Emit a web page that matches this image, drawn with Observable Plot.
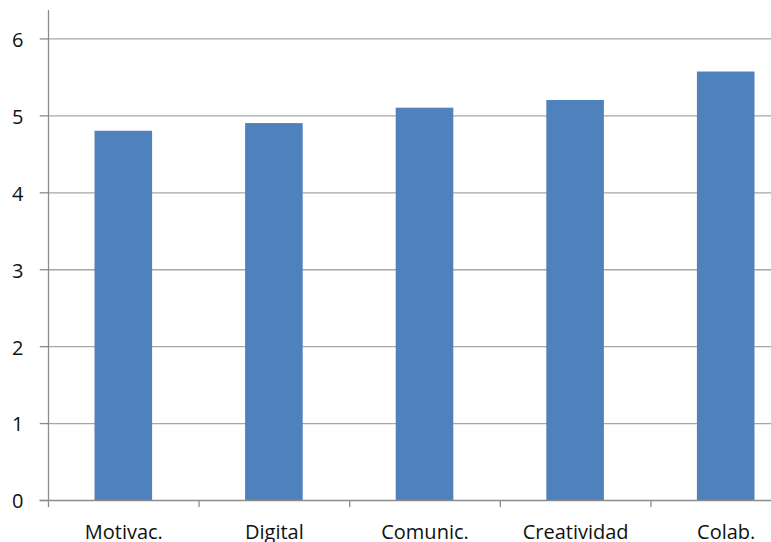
<!DOCTYPE html>
<html>
<head>
<meta charset="utf-8">
<script src="https://cdn.jsdelivr.net/npm/d3@7"></script>
<script src="https://cdn.jsdelivr.net/npm/@observablehq/plot@0.6"></script>
<style>
  html, body { margin: 0; padding: 0; background: #fff; overflow: hidden; }
  #chart { width: 771px; height: 542px; overflow: hidden; }
</style>
</head>
<body>
<div id="chart"></div>
<script>
const categories = ["Motivac.", "Digital", "Comunic.", "Creatividad", "Colab."];
const values = [4.8, 4.9, 5.1, 5.2, 5.57];
const yTicks = [0, 1, 2, 3, 4, 5, 6];
const yMax = 6.37;

const data = categories.map((c, i) => ({cat: c, i, value: values[i]}));
const bounds = d3.range(categories.length + 1);

const font = "'Open Sans', 'Liberation Sans', sans-serif";
const gridColor = "#a6a6a6";
const axisColor = "#8c8c8c";
const textColor = "#111111";

const chart = Plot.plot({
  width: 771,
  height: 542,
  marginTop: 10,
  marginBottom: 42,
  marginLeft: 48,
  marginRight: 0,
  style: {fontFamily: font, background: "#fff", overflow: "visible"},
  x: {type: "linear", domain: [0, categories.length], range: [48, 801], axis: null},
  y: {domain: [0, yMax], axis: null},
  marks: [
    // horizontal gridlines
    Plot.ruleY(yTicks.filter(t => t > 0), {y: d => d, x1: 0, x2: categories.length, stroke: gridColor, strokeWidth: 1.3}),
    // left tick marks
    Plot.ruleY(yTicks, {y: d => d, x1: -0.055, x2: 0, stroke: axisColor, strokeWidth: 1.3}),
    // bars
    Plot.rectY(data, {x1: "i", x2: d => d.i + 1, y: "value", fill: "#4f81bd", insetLeft: 46.5, insetRight: 46.5}),
    // y axis line
    Plot.ruleX([0], {x: d => d, y1: 0, y2: yMax, stroke: axisColor, strokeWidth: 1.3}),
    // x axis line
    Plot.ruleY([0], {y: d => d, x1: -0.055, x2: categories.length, stroke: axisColor, strokeWidth: 1.3}),
    // x category separator ticks (below the axis)
    Plot.ruleX(bounds, {x: d => d, y1: 0, y2: -0.092, stroke: axisColor, strokeWidth: 1.3}),
    // y tick labels
    Plot.text(yTicks, {y: d => d, frameAnchor: "left", dx: -25, dy: 1.5, text: d => String(d), textAnchor: "end", fontSize: 20, fill: textColor}),
    // x labels
    Plot.text(data, {x: d => d.i + 0.5, y: 0, text: "cat", lineAnchor: "bottom", dy: 38, fontSize: 20, fill: textColor})
  ]
});

document.getElementById("chart").appendChild(chart);
</script>
</body>
</html>
